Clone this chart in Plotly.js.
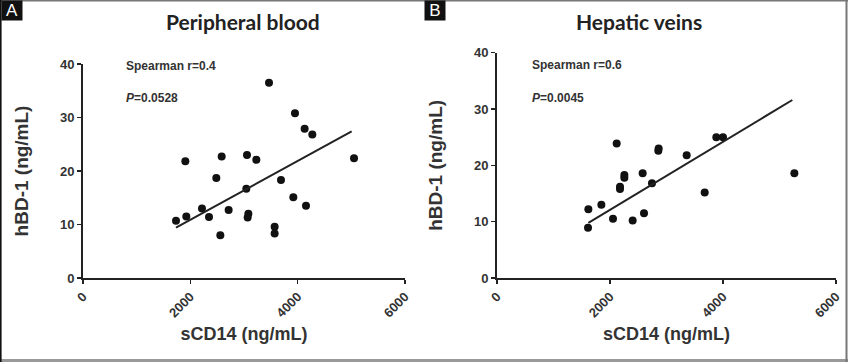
<!DOCTYPE html>
<html><head><meta charset="utf-8">
<script src="https://cdn.plot.ly/plotly-3.0.1.min.js"></script>
<style>html,body{margin:0;padding:0;background:#fff}#chart{width:848px;height:362px}</style>
</head><body><div id="chart"></div>
<script>
// Panel A: Peripheral blood
const sCD14_A = [1733,1925,1907,2217,2348,2484,2559,2584,2714,3056,3043,3081,3068,3230,3466,3571,3571,3689,3919,3950,4130,4273,4155,5050];
const hBD1_A  = [10.7,11.5,21.8,13.0,11.4,18.7,8.0,22.7,12.7,23.0,16.7,12.0,11.3,22.1,36.5,9.6,8.3,18.3,15.1,30.8,27.9,26.8,13.5,22.4];
const fitA_x = [1733,5006];
const fitA_y = [9.4,27.4];
// Panel B: Hepatic veins
const sCD14_B = [1617,1611,1847,2053,2118,2177,2177,2254,2254,2401,2578,2602,2743,2855,2861,3357,3676,3882,4000,5263];
const hBD1_B  = [12.2,8.9,13.0,10.5,23.9,16.2,15.8,18.3,17.8,10.2,18.6,11.5,16.8,22.6,23.0,21.8,15.2,25.0,25.0,18.6];
const fitB_x = [1617,5227];
const fitB_y = [9.8,31.6];
const titles = ["Peripheral blood","Hepatic veins"];
const panelLabels = ["A","B"];
const statsA = ["Spearman r=0.4","<i>P</i>=0.0528"];
const statsB = ["Spearman r=0.6","<i>P</i>=0.0045"];
const xTicks = [0,2000,4000,6000];
const yTicks = [0,10,20,30,40];

const mk = {size:8, color:'#111'};
const traces = [
  {x:sCD14_A, y:hBD1_A, mode:'markers', marker:mk, xaxis:'x', yaxis:'y'},
  {x:fitA_x, y:fitA_y, mode:'lines', line:{color:'#222',width:2}, xaxis:'x', yaxis:'y'},
  {x:sCD14_B, y:hBD1_B, mode:'markers', marker:mk, xaxis:'x2', yaxis:'y2'},
  {x:fitB_x, y:fitB_y, mode:'lines', line:{color:'#222',width:2}, xaxis:'x2', yaxis:'y2'}
];
const SANS = '"Liberation Sans", Arial, sans-serif';
const tickFont = {family:SANS, size:13, color:'#333', weight:'bold'};
const axTitleFont = {family:SANS, size:18, color:'#333', weight:'bold'};
function xa(dom){return {domain:dom, range:[0,6000], tickvals:xTicks, ticktext:xTicks.map(String), tickangle:-45,
  showline:true, linecolor:'#222', linewidth:2, ticks:'outside', ticklen:4, tickwidth:1.5, tickcolor:'#222',
  showgrid:false, zeroline:false, tickfont:tickFont, fixedrange:true,
  title:{text:'sCD14 (ng/mL)', font:axTitleFont, standoff:8}};}
function ya(dom, anchor){return {domain:dom, range:[0,40], tickvals:yTicks, ticktext:yTicks.map(String),
  showline:true, linecolor:'#222', linewidth:2, ticks:'outside', ticklen:4, tickwidth:1.5, tickcolor:'#222',
  showgrid:false, zeroline:false, tickfont:tickFont, anchor:anchor,
  title:{text:'hBD-1 (ng/mL)', font:Object.assign({}, axTitleFont, {size:19}), standoff:26}};}
const titleFont = {family:'Lato, "Open Sans", sans-serif', size:21, color:'#222', weight:'bold'};
const statFont = {family:SANS, size:12, color:'#333', weight:'bold'};
const annotations = [
  {xref:'paper', yref:'paper', x:243/848, y:1-21/362, text:titles[0], showarrow:false, font:titleFont, xanchor:'center', yanchor:'middle'},
  {xref:'paper', yref:'paper', x:639/848, y:1-21/362, text:titles[1], showarrow:false, font:titleFont, xanchor:'center', yanchor:'middle'},
  {xref:'paper', yref:'paper', x:1/848, y:1, text:panelLabels[0], showarrow:false, bgcolor:'#111', font:{family:SANS, size:17, color:'#fff'}, xanchor:'left', yanchor:'top', borderpad:0, width:20, height:19},
  {xref:'paper', yref:'paper', x:424/848, y:1, text:panelLabels[1], showarrow:false, bgcolor:'#111', font:{family:SANS, size:17, color:'#fff'}, xanchor:'left', yanchor:'top', borderpad:0, width:20, height:19},
  {xref:'paper', yref:'paper', x:124/848, y:1-66/362, text:statsA[0], showarrow:false, font:statFont, xanchor:'left', yanchor:'middle'},
  {xref:'paper', yref:'paper', x:124/848, y:1-98/362, text:statsA[1], showarrow:false, font:statFont, xanchor:'left', yanchor:'middle'},
  {xref:'paper', yref:'paper', x:530/848, y:1-65/362, text:statsB[0], showarrow:false, font:statFont, xanchor:'left', yanchor:'middle'},
  {xref:'paper', yref:'paper', x:530/848, y:1-98/362, text:statsB[1], showarrow:false, font:statFont, xanchor:'left', yanchor:'middle'}
];
const shapes = [
  {type:'line', xref:'paper', yref:'paper', x0:0, x1:1, y0:1-0.5/362, y1:1-0.5/362, line:{color:'#777', width:2}},
  {type:'line', xref:'paper', yref:'paper', x0:0, x1:1, y0:1.5/362, y1:1.5/362, line:{color:'#999', width:3}},
  {type:'line', xref:'paper', yref:'paper', x0:0.6/848, x1:0.6/848, y0:0, y1:1, line:{color:'#111', width:2}},
  {type:'line', xref:'paper', yref:'paper', x0:1-1.5/848, x1:1-1.5/848, y0:0, y1:1, line:{color:'#777', width:2}}
];
const layout = {
  width:848, height:362, margin:{l:0,r:0,t:0,b:0}, paper_bgcolor:'#fff', plot_bgcolor:'rgba(0,0,0,0)',
  showlegend:false,
  xaxis: xa([83/848, 405/848]),
  yaxis: ya([1-278/362, 1-64/362], 'x'),
  xaxis2: Object.assign(xa([497/848, 836/848]), {anchor:'y2'}),
  yaxis2: ya([1-278/362, 1-52.7/362], 'x2'),
  annotations: annotations, shapes: shapes
};
layout.xaxis.anchor = 'y';
Plotly.newPlot('chart', traces, layout, {staticPlot:true, displayModeBar:false});
</script></body></html>
